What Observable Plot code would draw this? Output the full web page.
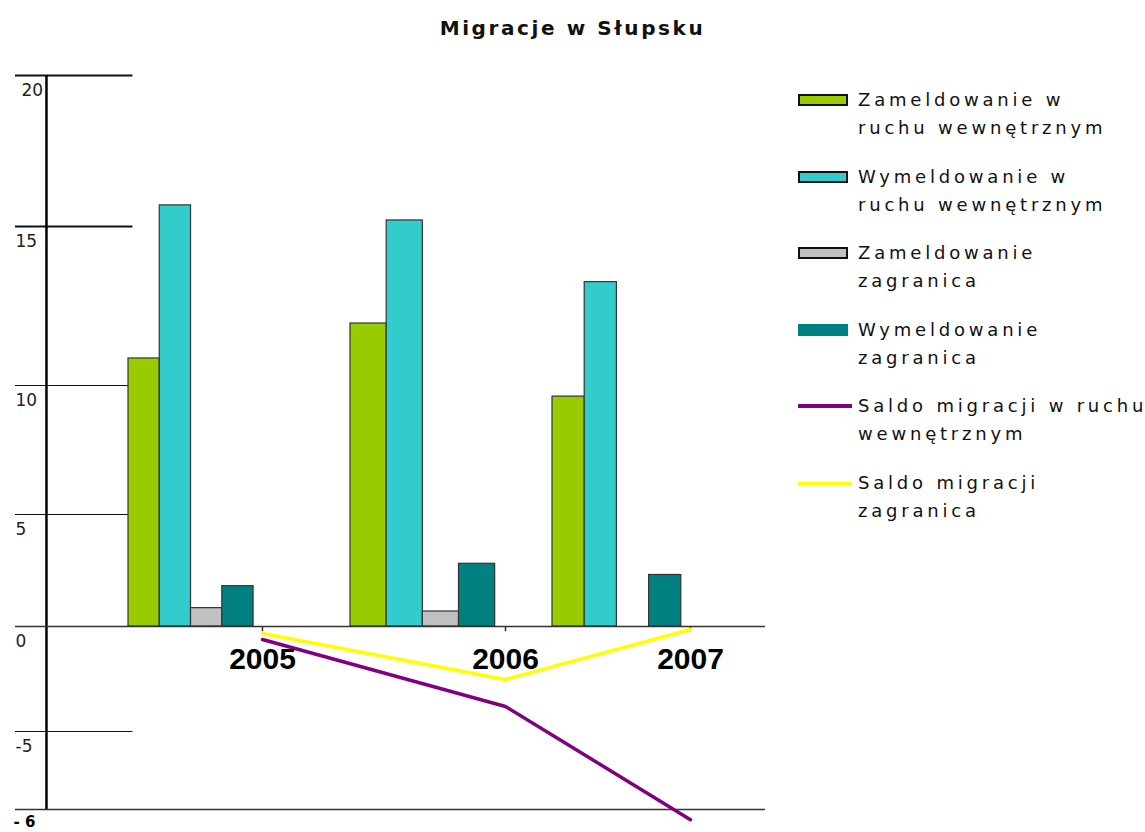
<!DOCTYPE html>
<html><head><meta charset="utf-8">
<script src="https://cdn.jsdelivr.net/npm/d3@7"></script>
<script src="https://cdn.jsdelivr.net/npm/@observablehq/plot@0.6"></script>
<style>
body{margin:0;background:#fff;width:1145px;height:832px;position:relative;overflow:hidden;font-family:"DejaVu Sans",sans-serif;color:#111}
#title{position:absolute;left:0;top:0;width:1145px;height:60px;line-height:56px;text-align:center;font-weight:bold;font-size:20px;letter-spacing:2.6px}
#chart{position:absolute;left:0;top:60px}
.sw{position:absolute;left:798px;width:50px;height:12px;box-sizing:border-box}
.ln{position:absolute;left:798px;width:54px}
.lt{position:absolute;left:858px;font-size:18px;line-height:28px;letter-spacing:3.8px;white-space:nowrap;color:#111}
</style></head>
<body>
<div id="title">Migracje w Słupsku</div>
<div id="chart"></div>
<script>
const years = [2005, 2006, 2007];
const seriesNames = ["Zameldowanie w ruchu wewnętrznym", "Wymeldowanie w ruchu wewnętrznym", "Zameldowanie zagranica", "Wymeldowanie zagranica"];
const zameldowanieWew = [10.85, 11.95, 9.57];
const wymeldowanieWew = [15.7, 15.2, 13.25];
const zameldowanieZag = [0.82, 0.67, null];
const wymeldowanieZag = [1.8, 2.8, 2.3];
const saldoWew = [-0.62, -3.81, -6.13];
const saldoZag = [-0.33, -2.52, -0.14];
const yTicks = [20, 15, 10, 5, 0, -5, -6];
const legendLines = [["Zameldowanie w", "ruchu wewnętrznym"], ["Wymeldowanie w", "ruchu wewnętrznym"], ["Zameldowanie", "zagranica"], ["Wymeldowanie", "zagranica"], ["Saldo migracji w ruchu", "wewnętrznym"], ["Saldo migracji", "zagranica"]];
const barColors = ["#99CC00", "#33CCCC", "#C0C0C0", "#008080"];
const lineColors = ["#800080", "#FFFF00"];

const seriesValues = [zameldowanieWew, wymeldowanieWew, zameldowanieZag, wymeldowanieZag];
const bars = [];
years.forEach((yr, i) => seriesValues.forEach((vals, s) => {
  if (vals[i] != null) bars.push({year: yr, s, value: vals[i]});
}));
const lineData = [];
[saldoWew, saldoZag].forEach((vals, s) => years.forEach((yr, i) => lineData.push({year: yr, s, value: vals[i]})));

const BW = 0.14, G0 = 0.6;
const xLeft = 2003.9, xRight = 2007.3, shortEnd = 2004.42, axisX = 2004.037;
const fullTicks = yTicks.filter(t => t === 0 || t === -6);
const shortTicks = yTicks.filter(t => t !== 0 && t !== -6);
const labelFont = {frameAnchor: "left", textAnchor: "start", fontSize: 17, fontFamily: "DejaVu Sans, sans-serif", fill: "#222", text: d => String(d), y: d => d};

const chart = Plot.plot({
  width: 780, height: 772,
  marginLeft: 15, marginRight: 15, marginTop: 10, marginBottom: 10,
  x: {type: "linear", domain: [2003.9, 2004.4, 2005, 2005.4, 2006, 2006.4, 2007, 2007.3], range: [15, 128, 262, 350, 505, 552, 690, 765], axis: null},
  y: {type: "linear", domain: [-6, -5, 0, 5, 10, 15, 20], range: [749, 671, 566, 454, 325, 166, 15], axis: null},
  marks: [
    Plot.ruleY(shortTicks, {y: d => d, x1: xLeft, x2: shortEnd, stroke: "#111", strokeWidth: d => d >= 15 ? 2 : 1.2}),
    Plot.ruleX([axisX], {y1: -6, y2: 20, stroke: "#000", strokeWidth: 2.5}),
    Plot.rectY(bars, {x1: d => d.year - G0 + d.s * BW, x2: d => d.year - G0 + (d.s + 1) * BW, y1: 0, y2: "value", fill: d => barColors[d.s], stroke: "#333", strokeWidth: 1.2}),
    Plot.ruleY(fullTicks, {y: d => d, x1: xLeft, x2: xRight, stroke: "#333", strokeWidth: 1.5}),
    Plot.ruleX(years, {x: d => d, y1: 0, y2: -0.25, stroke: "#333", strokeWidth: 1.5}),
    Plot.line(lineData, {x: "year", y: "value", z: "s", stroke: d => lineColors[d.s], strokeWidth: 3.5}),
    Plot.text(years, {x: d => d, y: 0, dy: 33, text: d => String(d), fontSize: 30, fontWeight: "bold", fontFamily: "Liberation Sans, Arial, sans-serif", fill: "#000"}),
    Plot.text(yTicks.filter(t => t === 20), {...labelFont, dx: 6, dy: 15}),
    Plot.text(yTicks.filter(t => t !== 20 && t !== -6), {...labelFont, dy: 15}),
    Plot.text(yTicks.filter(t => t === -6), {y: d => d, frameAnchor: "left", textAnchor: "start", dx: -2, dy: 13, text: d => "- " + Math.abs(d), fontSize: 15, fontWeight: "bold", fontFamily: "DejaVu Sans, sans-serif", fill: "#000"})
  ]
});
document.getElementById("chart").appendChild(chart);

const colorsAll = [...barColors, ...lineColors];
legendLines.forEach((lines, i) => {
  const cy = 100 + 76.6 * i;
  const body = document.body;
  if (i < 4) {
    const sw = document.createElement("div");
    sw.className = "sw";
    sw.style.top = (cy - 6) + "px";
    sw.style.background = colorsAll[i];
    sw.style.border = i === 3 ? "1px solid #008080" : "2px solid #111";
    body.appendChild(sw);
  } else {
    const ln = document.createElement("div");
    ln.className = "ln";
    const h = i === 4 ? 4 : 3;
    ln.style.top = (cy - h / 2) + "px";
    ln.style.height = h + "px";
    ln.style.background = colorsAll[i];
    body.appendChild(ln);
  }
  const t = document.createElement("div");
  t.className = "lt";
  t.style.top = (cy - 14) + "px";
  t.innerHTML = lines.join("<br>");
  body.appendChild(t);
});
</script>
</body></html>
